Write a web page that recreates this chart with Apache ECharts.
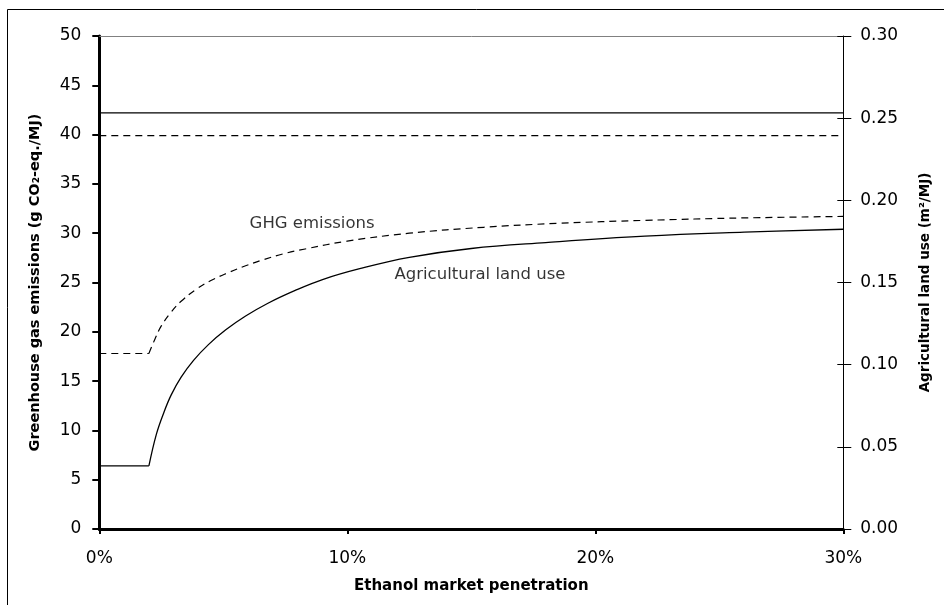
<!DOCTYPE html>
<html>
<head>
<meta charset="utf-8">
<script src="https://cdn.jsdelivr.net/npm/echarts@6/dist/echarts.min.js"></script>
<style>html,body{margin:0;padding:0;background:#fff}#c{width:944px;height:605px}</style>
</head>
<body>
<div id="c"></div>
<script>
// ---- data ----
const xTicks = [0, 10, 20, 30];               // % market penetration
const ghgTicks = [0, 50, 5];                  // min, max, step (g CO2-eq/MJ)
const landTicks = [0, 0.30, 0.05];            // min, max, step (m2/MJ)

const landUseX = [0, 2, 2.3, 2.6, 2.9, 3.3, 3.8, 4.4, 5.1, 5.9, 6.8, 7.9, 9.0, 10.5, 12.5, 15, 18, 22, 26, 30];
const landUseY = [0.0384, 0.0384, 0.0576, 0.0708, 0.0816, 0.0924, 0.1026, 0.1122, 0.1212, 0.1296, 0.1374, 0.1452, 0.1518, 0.1584, 0.1653, 0.1707, 0.1743, 0.1782, 0.1806, 0.1824];

const ghgX = [0, 2, 2.25, 2.5, 2.9, 3.3, 3.9, 4.5, 5.2, 5.9, 6.6, 7.4, 8.3, 10, 12.5, 15.5, 18.5, 22, 26, 30];
const ghgY = [17.8, 17.8, 19.3, 20.6, 22.0, 23.1, 24.3, 25.2, 26.0, 26.7, 27.3, 27.9, 28.4, 29.2, 30.0, 30.6, 31.0, 31.3, 31.55, 31.7];

const refX = [0, 30];
const landUseRef = [0.2532, 0.2532];   // solid horizontal line (right axis)
const ghgRef = [39.9, 39.9];           // dashed horizontal line (left axis)

const annotTexts = ['GHG emissions', 'Agricultural land use'];
const annotX = [8.58, 15.35];
const annotY = [31.0, 25.8];

// ---- chart ----
const FONT = 'DejaVu Sans';
const zip = (a, b) => a.map((v, i) => [v, b[i]]);
const KINK = 1; // index where flat part ends and curve starts
const chart = echarts.init(document.getElementById('c'), null, {renderer: 'canvas'});

const gridBox = {left: 99.3, right: 100.7, top: 36, bottom: 76};
const noAxis = {axisLine: {show: false}, axisTick: {show: false}, axisLabel: {show: false}, splitLine: {show: false}};

chart.setOption({
  animation: false,
  backgroundColor: '#fff',
  grid: [Object.assign({}, gridBox), Object.assign({}, gridBox)],
  graphic: [{
    type: 'rect', silent: true,
    shape: {x: 7.5, y: 9.5, width: 1200, height: 1200},
    style: {fill: 'none', stroke: '#000', lineWidth: 1}
  }],
  xAxis: [{
    gridIndex: 0, type: 'value', min: xTicks[0], max: xTicks[xTicks.length - 1], interval: xTicks[1] - xTicks[0],
    position: 'bottom',
    axisLine: {onZero: false, lineStyle: {color: '#000', width: 3}},
    axisTick: {length: 5, lineStyle: {color: '#000', width: 2}},
    axisLabel: {formatter: v => v + '%', color: '#000', fontSize: 17, fontFamily: FONT, margin: 21},
    splitLine: {show: false},
    name: 'Ethanol market penetration', nameLocation: 'middle', nameGap: 50,
    nameTextStyle: {color: '#000', fontSize: 15, fontWeight: 'bold', fontFamily: FONT}
  }, {
    gridIndex: 0, type: 'value', min: 0, max: 30, position: 'top',
    axisLine: {onZero: false, lineStyle: {color: '#808080', width: 1}},
    axisTick: {show: false}, axisLabel: {show: false}, splitLine: {show: false}
  }, Object.assign({gridIndex: 1, type: 'value', min: 0, max: 30}, noAxis)],
  yAxis: [{
    gridIndex: 0, type: 'value', min: ghgTicks[0], max: ghgTicks[1], interval: ghgTicks[2], position: 'left',
    axisLine: {show: true, onZero: false, lineStyle: {color: '#000', width: 3}},
    axisTick: {show: true, length: 7, lineStyle: {color: '#000', width: 2}},
    axisLabel: {color: '#000', fontSize: 17, fontFamily: FONT, margin: 18},
    splitLine: {show: false},
    name: 'Greenhouse gas emissions (g CO\u2082-eq./MJ)', nameLocation: 'middle', nameGap: 57, nameRotate: 90,
    nameTextStyle: {color: '#000', fontSize: 14.5, fontWeight: 'bold', fontFamily: FONT}
  }, {
    gridIndex: 0, type: 'value', min: landTicks[0], max: landTicks[1], interval: landTicks[2], position: 'right',
    axisLine: {show: true, onZero: false, lineStyle: {color: '#000', width: 1}},
    axisTick: {show: true, length: 8, lineStyle: {color: '#000', width: 1}},
    axisLabel: {color: '#000', fontSize: 17, fontFamily: FONT, margin: 17, formatter: v => v.toFixed(2)},
    splitLine: {show: false},
    name: 'Agricultural land use (m\u00B2/MJ)', nameLocation: 'middle', nameGap: 75, nameRotate: 90,
    nameTextStyle: {color: '#000', fontSize: 13.5, fontWeight: 'bold', fontFamily: FONT}
  }, {
    gridIndex: 1, type: 'value', min: landTicks[0], max: landTicks[1], interval: landTicks[2], position: 'right',
    axisLine: {show: false, onZero: false},
    axisTick: {show: true, inside: true, length: 6, lineStyle: {color: '#000', width: 1}},
    axisLabel: {show: false}, splitLine: {show: false}
  }],
  series: [{
    name: 'Agricultural land use (flat)', type: 'line', yAxisIndex: 1, showSymbol: false,
    data: zip(landUseX, landUseY).slice(0, KINK + 1),
    lineStyle: {color: '#000', width: 1.3, type: 'solid'}
  }, {
    name: 'Agricultural land use', type: 'line', yAxisIndex: 1, showSymbol: false, smooth: 0.4,
    data: zip(landUseX, landUseY).slice(KINK),
    lineStyle: {color: '#000', width: 1.3, type: 'solid'}
  }, {
    name: 'GHG emissions (flat)', type: 'line', yAxisIndex: 0, showSymbol: false,
    data: zip(ghgX, ghgY).slice(0, KINK + 1),
    lineStyle: {color: '#000', width: 1.2, type: [7, 5]}
  }, {
    name: 'GHG emissions', type: 'line', yAxisIndex: 0, showSymbol: false, smooth: 0.4,
    data: zip(ghgX, ghgY).slice(KINK),
    lineStyle: {color: '#000', width: 1.2, type: [7, 5]}
  }, {
    name: 'Land use reference', type: 'line', yAxisIndex: 1, showSymbol: false,
    data: zip(refX, landUseRef),
    lineStyle: {color: '#000', width: 1.2, type: 'solid'}
  }, {
    name: 'GHG reference', type: 'line', yAxisIndex: 0, showSymbol: false,
    data: zip(refX, ghgRef),
    lineStyle: {color: '#000', width: 1.2, type: [7, 5]}
  }, {
    name: 'labels', type: 'scatter', yAxisIndex: 0, symbolSize: 0, silent: true,
    itemStyle: {color: '#000'},
    data: annotTexts.map((t, i) => ({name: t, value: [annotX[i], annotY[i]]})),
    label: {show: true, position: 'inside', formatter: p => p.name, color: '#000',
            textBorderWidth: 0, textBorderColor: 'transparent', fontSize: 16.5, fontFamily: FONT}
  }]
});
</script>
</body>
</html>
